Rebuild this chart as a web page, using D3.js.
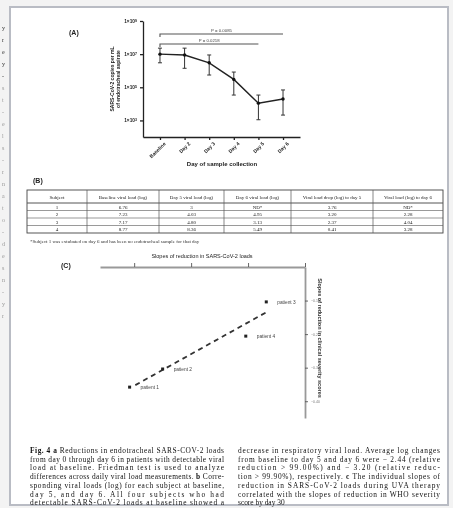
<!DOCTYPE html>
<html>
<head>
<meta charset="utf-8">
<script src="https://cdn.jsdelivr.net/npm/d3@7"></script>
<style>
  body { margin: 0; background: #f3f3f3; }
  svg { display: block; filter: blur(0.45px); }
  text { font-family: "Liberation Sans", Arial, sans-serif; fill: #222; }
  .serif { font-family: "Liberation Serif", "Times New Roman", serif; }
</style>
</head>
<body>
<div id="fig"></div>
<script>
// ---- panel A data ----
var days = ["Baseline", "Day 2", "Day 3", "Day 4", "Day 5", "Day 6"];
var meanLoad = [1.0e7, 8.9e6, 3.0e6, 3.0e5, 1.1e4, 1.95e4];
var loadHigh = [2.3e7, 2.3e7, 8.9e6, 8.3e5, 3.4e4, 6.9e4];
var loadLow  = [3.0e6, 1.4e6, 5.5e5, 3.4e4, 1.1e3, 2.1e3];
var yTicks = [1e3, 1e5, 1e7, 1e9];
var pBars = [
  { from: "Baseline", to: "Day 6", label: "P = 0.0085" },
  { from: "Baseline", to: "Day 5", label: "P = 0.0218" }
];

// ---- panel B data ----
var tableHead = ["Subject", "Baseline viral load (log)", "Day 5 viral load (log)", "Day 6 viral load (log)",
                 "Viral load drop (log) to day 5", "Viral load (log) to day 6"];
var subjects = ["1", "2", "3", "4"];
var baseLoad = ["6.76", "7.23", "7.17", "8.77"];
var day5Load = ["3", "4.03", "4.80", "8.36"];
var day6Load = ["ND*", "4.95", "3.13", "5.49"];
var drop5 = ["3.76", "3.20", "2.37", "0.41"];
var drop6 = ["ND*", "2.28", "4.04", "3.28"];
var tableNote = "*Subject 1 was extubated on day 6 and has been no endotracheal sample for that day";

// ---- panel C data ----
var patients = ["patient 1", "patient 2", "patient 4", "patient 3"];
var viralSlope = [-1.54, -1.25, -0.52, -0.34];
var severitySlope = [-0.358, -0.304, -0.206, -0.104];
var cXTicks = [-1.5, -1.0, -0.5, 0];
var cYTicks = [-0.1, -0.2, -0.3, -0.4];

// ---- caption (** toggles bold) ----
var captionLeft = [
  "**Fig. 4  a**  Reductions in endotracheal SARS-COV-2 loads",
  "from day 0 through day 6 in patients with detectable viral",
  "load at baseline. Friedman test is used to analyze",
  "differences across daily viral load measurements. **b** Corre-",
  "sponding viral loads (log) for each subject at baseline,",
  "day 5, and day 6. All four subjects who had",
  "detectable SARS-CoV-2 loads at baseline showed a"
];
var captionRight = [
  "decrease in respiratory viral load. Average log changes",
  "from baseline to day 5 and day 6 were − 2.44 (relative",
  "reduction > 99.00%) and − 3.20 (relative reduc-",
  "tion > 99.90%), respectively. **c** The individual slopes of",
  "reduction in SARS-CoV-2 loads during UVA therapy",
  "correlated with the slopes of reduction in WHO severity",
  "score by day 30"
];
var edgeLetters = ["y", "r", "e", "y", "-", "s", "t", "-", "e", "l", "s", "-", "r", "n", "a", "t", "o", "-", "d", "e", "s", "n", "-", "y", "r"];

var W = 453, H = 508;
var svg = d3.select("#fig").append("svg").attr("width", W).attr("height", H);

// left edge fragments of the neighbouring column
svg.append("g").selectAll("text")
  .data(edgeLetters)
  .enter().append("text")
    .attr("class", "serif")
    .attr("x", 2)
    .attr("y", function(d, i) { return 30 + i * 12; })
    .style("font-size", "6px")
    .style("fill", function(d, i) { return i < 5 ? "#333" : "#999"; })
    .text(function(d) { return d; });

// page
svg.append("rect")
  .attr("x", 10).attr("y", 7).attr("width", 438).attr("height", 498)
  .attr("fill", "#fff").attr("stroke", "#b9bcc4").attr("stroke-width", 2);

// ================= panel A =================
var gA = svg.append("g");
gA.append("text").attr("x", 69).attr("y", 35).style("font-size", "7px").style("font-weight", "bold").text("(A)");

var x = d3.scalePoint().domain(days).range([143, 300]).padding(0.69);
var y = d3.scaleLog().domain([1e2, 1e9]).range([137, 21]);

var yAxis = gA.append("g")
  .attr("transform", "translate(143,0)")
  .call(d3.axisLeft(y).tickValues(yTicks).tickSize(3).tickSizeOuter(0));
yAxis.selectAll("text").each(function(d) {
  var t = d3.select(this).text("").style("font-size", "4.8px").style("font-weight", "bold");
  t.append("tspan").text("1×10");
  t.append("tspan").attr("dy", "-1.5").style("font-size", "3.6px").text(Math.round(Math.log10(d)));
});

var xAxis = gA.append("g")
  .attr("transform", "translate(0,137)")
  .call(d3.axisBottom(x).tickSize(3).tickSizeOuter(0));
xAxis.selectAll("text")
  .style("font-size", "5px")
  .style("font-weight", "bold")
  .style("text-anchor", "end")
  .attr("dx", "-0.2em")
  .attr("dy", "0.6em")
  .attr("transform", "rotate(-45)");
gA.selectAll(".domain, .tick line").attr("stroke", "#222").attr("stroke-width", 1.3);

gA.append("text")
  .attr("transform", "translate(114,79) rotate(-90)")
  .style("font-size", "5px").style("font-weight", "bold").style("text-anchor", "middle")
  .selectAll("tspan").data(["SARS-CoV-2 copies per mL", "of endotracheal aspirate"])
  .enter().append("tspan")
    .attr("x", 0).attr("dy", function(d, i) { return i ? 6 : 0; })
    .text(function(d) { return d; });

gA.append("text")
  .attr("x", 222).attr("y", 166)
  .style("font-size", "6px").style("font-weight", "bold").style("text-anchor", "middle")
  .text("Day of sample collection");

// significance bars
var pb = gA.selectAll(".pbar").data(pBars).enter().append("g").attr("class", "pbar");
pb.append("path")
  .attr("d", function(d, i) {
    var yy = 34 + i * 10;
    return "M" + x(d.from) + "," + (yy + 3) + "V" + yy + "H" + x(d.to);
  })
  .attr("fill", "none").attr("stroke", "#555").attr("stroke-width", 1.1);
pb.append("text")
  .attr("x", function(d) { return (x(d.from) + x(d.to)) / 2; })
  .attr("y", function(d, i) { return 32 + i * 10; })
  .style("font-size", "4.3px").style("text-anchor", "middle").style("fill", "#444")
  .text(function(d) { return d.label; });

// error bars
var eb = gA.selectAll(".err").data(days).enter().append("g").attr("class", "err");
eb.append("line")
  .attr("x1", function(d) { return x(d); }).attr("x2", function(d) { return x(d); })
  .attr("y1", function(d, i) { return y(loadHigh[i]); })
  .attr("y2", function(d, i) { return y(loadLow[i]); })
  .attr("stroke", "#333").attr("stroke-width", 1);
["high", "low"].forEach(function(k) {
  eb.append("line")
    .attr("x1", function(d) { return x(d) - 2; }).attr("x2", function(d) { return x(d) + 2; })
    .attr("y1", function(d, i) { return y(k === "high" ? loadHigh[i] : loadLow[i]); })
    .attr("y2", function(d, i) { return y(k === "high" ? loadHigh[i] : loadLow[i]); })
    .attr("stroke", "#333").attr("stroke-width", 1);
});

var line = d3.line()
  .x(function(d, i) { return x(days[i]); })
  .y(function(d) { return y(d); });
gA.append("path")
  .datum(meanLoad)
  .attr("d", line)
  .attr("fill", "none").attr("stroke", "#222").attr("stroke-width", 1.4);
gA.selectAll(".pt").data(meanLoad).enter().append("circle")
  .attr("cx", function(d, i) { return x(days[i]); })
  .attr("cy", function(d) { return y(d); })
  .attr("r", 1.7).attr("fill", "#111");

// ================= panel B =================
var gB = svg.append("g");
gB.append("text").attr("x", 33).attr("y", 183).style("font-size", "7px").style("font-weight", "bold").text("(B)");

var colEdges = [27, 87, 159, 224, 291, 373, 443];
var headTop = 190, headBot = 203, rowH = 7.5;
var rows = subjects.map(function(s, i) {
  return [s, baseLoad[i], day5Load[i], day6Load[i], drop5[i], drop6[i]];
});
var tblBottom = headBot + rows.length * rowH;

gB.append("rect")
  .attr("x", colEdges[0]).attr("y", headTop)
  .attr("width", colEdges[6] - colEdges[0]).attr("height", tblBottom - headTop)
  .attr("fill", "none").attr("stroke", "#444").attr("stroke-width", 0.9);
gB.selectAll(".vline").data(colEdges.slice(1, 6)).enter().append("line")
  .attr("x1", function(d) { return d; }).attr("x2", function(d) { return d; })
  .attr("y1", headTop).attr("y2", tblBottom)
  .attr("stroke", "#555").attr("stroke-width", 0.7);
gB.selectAll(".hline").data(d3.range(rows.length)).enter().append("line")
  .attr("x1", colEdges[0]).attr("x2", colEdges[6])
  .attr("y1", function(i) { return headBot + i * rowH; })
  .attr("y2", function(i) { return headBot + i * rowH; })
  .attr("stroke", "#555").attr("stroke-width", function(i) { return i ? 0.6 : 1; });

gB.selectAll(".head").data(tableHead).enter().append("text")
  .attr("class", "serif")
  .attr("x", function(d, i) { return (colEdges[i] + colEdges[i + 1]) / 2; })
  .attr("y", 198.5)
  .style("font-size", "5px").style("text-anchor", "middle")
  .text(function(d) { return d; });

rows.forEach(function(r, ri) {
  gB.selectAll(".cell" + ri).data(r).enter().append("text")
    .attr("class", "serif")
    .attr("x", function(d, i) { return (colEdges[i] + colEdges[i + 1]) / 2; })
    .attr("y", headBot + ri * rowH + 5.6)
    .style("font-size", "5px").style("text-anchor", "middle")
    .text(function(d) { return d; });
});

gB.append("text").attr("class", "serif")
  .attr("x", 30).attr("y", tblBottom + 10)
  .style("font-size", "5px").style("fill", "#333")
  .text(tableNote);

// ================= panel C =================
var gC = svg.append("g");
gC.append("text").attr("x", 61).attr("y", 268).style("font-size", "7px").style("font-weight", "bold").text("(C)");

var cx = d3.scaleLinear().domain([-1.8, 0]).range([100, 305]);
var cy = d3.scaleLinear().domain([0, -0.45]).range([267, 418]);

gC.append("text")
  .attr("x", 202).attr("y", 258)
  .style("font-size", "5.5px").style("text-anchor", "middle").style("fill", "#222")
  .text("Slopes of reduction in SARS-CoV-2 loads");

gC.append("g").attr("transform", "translate(0,267)")
  .call(d3.axisTop(cx).tickValues(cXTicks).tickSize(4).tickSizeOuter(0).tickFormat(""));
var cRight = gC.append("g").attr("transform", "translate(305,0)")
  .call(d3.axisRight(cy).tickValues(cYTicks).tickSize(3).tickSizeOuter(0));
cRight.selectAll("text").style("font-size", "3.5px").style("fill", "#777");
gC.selectAll(".domain").attr("stroke", "#999").attr("stroke-width", 1.8);
gC.selectAll(".tick line").attr("stroke", "#555").attr("stroke-width", 0.9);

gC.append("text")
  .attr("transform", "translate(318,338) rotate(90)")
  .style("font-size", "5.5px").style("font-weight", "bold").style("text-anchor", "middle").style("fill", "#333")
  .text("Slopes of reduction in clinical severity scores");

// least-squares fit from the points
var mx = d3.mean(viralSlope), my = d3.mean(severitySlope);
var sxy = d3.sum(viralSlope, function(v, i) { return (v - mx) * (severitySlope[i] - my); });
var sxx = d3.sum(viralSlope, function(v) { return (v - mx) * (v - mx); });
var k = sxy / sxx;
var fitX = [d3.min(viralSlope) + 0.05, d3.max(viralSlope)];
gC.append("line")
  .attr("x1", cx(fitX[0])).attr("y1", cy(my + k * (fitX[0] - mx)))
  .attr("x2", cx(fitX[1])).attr("y2", cy(my + k * (fitX[1] - mx)))
  .attr("stroke", "#333").attr("stroke-width", 1.8).attr("stroke-dasharray", "5,4");

gC.selectAll(".cpt").data(patients).enter().append("rect")
  .attr("x", function(d, i) { return cx(viralSlope[i]) - 1.5; })
  .attr("y", function(d, i) { return cy(severitySlope[i]) - 1.5; })
  .attr("width", 3).attr("height", 3).attr("fill", "#222");
gC.selectAll(".clab").data(patients).enter().append("text")
  .attr("x", function(d, i) { return cx(viralSlope[i]) + 11; })
  .attr("y", function(d, i) { return cy(severitySlope[i]) + 2; })
  .style("font-size", "4.8px").style("fill", "#444")
  .text(function(d) { return d; });

// ================= caption =================
function caption(lines, x0, x1, justifyLast) {
  var g = svg.append("g");
  var t = g.selectAll("text").data(lines).enter().append("text")
    .attr("class", "serif")
    .attr("x", x0)
    .attr("y", function(d, i) { return 453 + i * 8.7; })
    .style("font-size", "7.4px")
    .style("fill", "#111")
    .attr("textLength", function(d, i) { return (justifyLast || i < lines.length - 1) ? x1 - x0 : null; })
    .attr("lengthAdjust", "spacing");
  t.each(function(d) {
    var el = d3.select(this);
    d.split("**").forEach(function(part, j) {
      el.append("tspan").style("font-weight", j % 2 ? "bold" : "normal").text(part);
    });
  });
}
caption(captionLeft, 30, 224, true);
caption(captionRight, 238, 440, false);
</script>
</body>
</html>
